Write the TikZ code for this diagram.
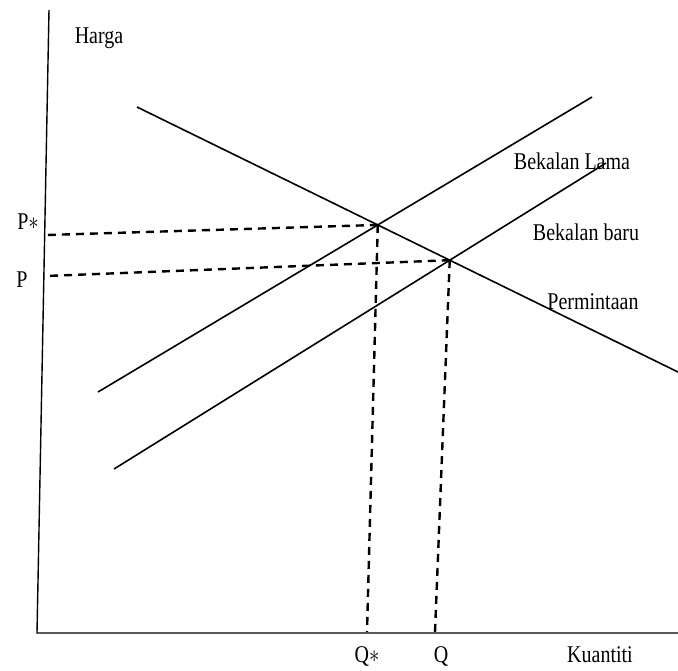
\documentclass[tikz,border=0pt]{standalone}
\usepackage{fontspec}
\usepackage{graphicx}
\setmainfont{Liberation Serif}
\usetikzlibrary{intersections}
\newcommand\tallx[1]{\scalebox{1}[1.2]{#1}}
\begin{document}
\begin{tikzpicture}[x=1pt,y=-1pt,
  axis/.style={line width=1.4pt},
  curve/.style={line width=1.6pt},
  guide/.style={line width=2.4pt, dash pattern=on 8pt off 6pt},
  lbl/.style={font=\fontsize{20}{22}\selectfont, inner sep=0pt}]
\useasboundingbox (0,0) rectangle (678,670);
% axes
\coordinate (ytop) at (49,10);
\coordinate (origin) at (37,633);
\coordinate (xend) at (678,633);
\draw[axis] (ytop) -- (origin) -- (xend);
% curves
\coordinate (d1) at (137,107);
\coordinate (d2) at (678,372);
\coordinate (s1a) at (98,392);
\coordinate (s1b) at (592,97);
\coordinate (s2a) at (114,469);
\coordinate (s2b) at (606,163);
\draw[curve, name path=dem] (d1) -- (d2);
\draw[curve, name path=old] (s1a) -- (s1b);
\draw[curve, name path=new] (s2a) -- (s2b);
\path[name intersections={of=dem and old, by=E1}];
\path[name intersections={of=dem and new, by=E2}];
% guide ends
\coordinate (pstar) at (47,235);
\coordinate (pp) at (46,276);
\coordinate (qstar) at (367,632);
\coordinate (qq) at (435,632);
\draw[guide] (E1) -- (pstar);
\draw[guide] (E2) -- (pp);
\draw[guide] (E1) -- (qstar);
\draw[guide] (E2) -- (qq);
% labels
\node[lbl] (harga) at (99,38) {\tallx{Harga}};
\node[lbl] (lpstar) at (28,222) {\tallx{P$\ast$}};
\node[lbl] (lp) at (22,280) {\tallx{P}};
\node[lbl] (lqstar) at (367,656) {\tallx{Q$\ast$}};
\node[lbl] (lq) at (441,656) {\tallx{Q}};
\node[lbl] (kuan) at (600,655) {\tallx{Kuantiti}};
\node[lbl] (lama) at (572,161) {\tallx{Bekalan Lama}};
\node[lbl] (baru) at (586,232) {\tallx{Bekalan baru}};
\node[lbl] (perm) at (593,302) {\tallx{Permintaan}};
\end{tikzpicture}
\end{document}
